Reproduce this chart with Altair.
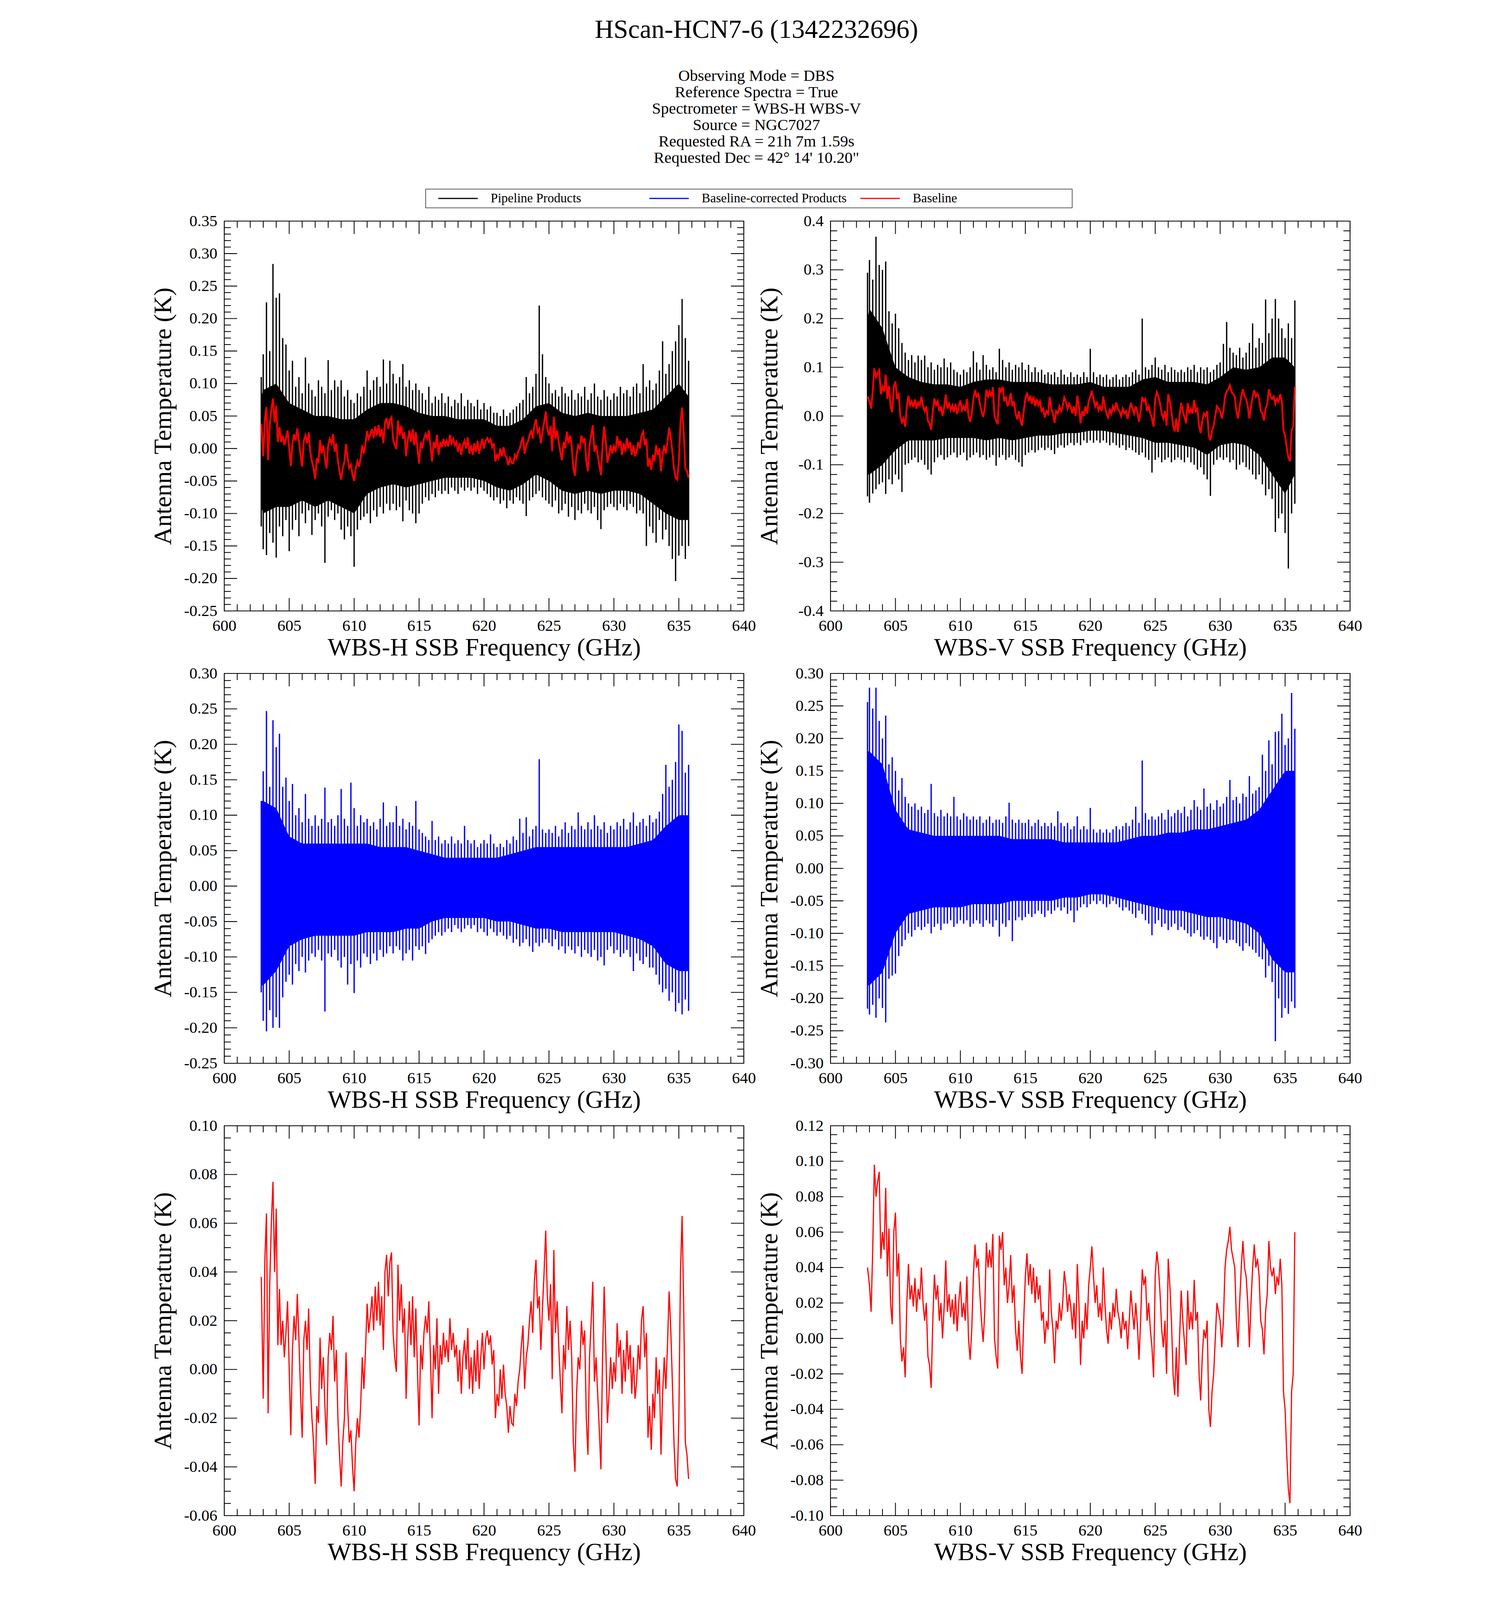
import altair as alt
import pandas as pd

SERIF = "Liberation Serif"
S = 0.835                      # whole layout scaled so the figure fits the captured page
W, H = round(1593 * S), round(1195 * S)
TW = 2.5 * S
TICK_FS, AXT_FS = round(49 * S), round(77 * S)
MAJ_L, MIN_L = round(40 * S), round(20 * S)
LPAD = round(22 * S)
YEXT = 104
YTP = 20
XTP = 4

# ---------------- data ----------------
FREQ = [602.85] + [round(603.0 + 0.25 * k, 2) for k in range(132)]
FREQ_R = [602.85] + [round(603.0 + 0.125 * k, 3) for k in range(263)]
CORE_F = [602.85] + [float(v) for v in range(603, 636)] + [635.75]

# Baseline, WBS-H (0.125 GHz sampling)
RED_H = [
    0.038,
    -0.012, 0.045, 0.064, -0.018, 0.035, 0.060, 0.077, 0.040,
    0.066, 0.010, 0.033, 0.010, 0.020, 0.005, 0.015, 0.028,
    0.000, -0.027, 0.008, 0.022, 0.012, 0.031, 0.012, -0.010,
    -0.028, 0.012, 0.020, 0.008, 0.025, -0.005, -0.020, -0.030,
    -0.047, -0.015, -0.022, 0.013, -0.008, 0.005, -0.015, -0.031,
    0.005, 0.015, 0.008, 0.022, -0.005, 0.008, -0.020, -0.035,
    -0.048, -0.030, -0.020, 0.007, -0.015, -0.030, -0.025, -0.040,
    -0.050, -0.030, -0.020, -0.028, -0.015, 0.005, -0.008, 0.008,
    0.027, 0.015, 0.022, 0.030, 0.016, 0.034, 0.020, 0.036,
    0.018, 0.030, 0.008, 0.040, 0.047, 0.030, 0.044, 0.048,
    0.015, 0.005, -0.001, 0.043, 0.020, 0.035, 0.015, 0.025,
    -0.012, 0.012, 0.028, 0.010, 0.030, 0.005, 0.025, 0.000,
    -0.023, 0.010, 0.000, 0.015, 0.022, 0.015, 0.028, 0.005,
    -0.020, 0.010, 0.000, 0.021, -0.010, 0.010, 0.002, 0.015,
    0.005, 0.012, 0.003, 0.021, 0.008, 0.015, 0.005, 0.010,
    -0.005, 0.008, -0.010, 0.005, 0.012, 0.000, 0.017, -0.008,
    0.005, -0.010, 0.008, -0.005, 0.012, -0.008, 0.005, 0.015,
    0.000, 0.012, 0.016, 0.010, 0.014, 0.002, 0.008, -0.020,
    -0.010, -0.015, 0.000, -0.012, 0.002, -0.010, -0.015, -0.026,
    -0.015, -0.022, -0.023, -0.010, -0.015, -0.005, 0.000, 0.010,
    0.018, -0.008, 0.005, 0.010, 0.020, 0.028, 0.015, 0.036,
    0.045, 0.025, 0.030, 0.008, 0.025, 0.040, 0.057, 0.030,
    0.020, 0.035, -0.004, 0.049, 0.015, 0.028, 0.010, -0.005,
    -0.018, 0.010, 0.000, 0.026, 0.008, 0.020, 0.005, -0.030,
    -0.042, -0.010, 0.005, 0.000, 0.020, 0.010, 0.016, -0.020,
    -0.035, 0.005, 0.020, 0.036, -0.005, 0.005, -0.010, -0.025,
    -0.041, 0.005, 0.034, 0.010, -0.022, -0.010, 0.005, -0.008,
    0.003, -0.005, 0.019, 0.005, 0.012, -0.010, 0.008, -0.005,
    0.016, 0.000, 0.010, -0.010, 0.005, -0.012, -0.005, 0.010,
    0.000, 0.020, 0.026, 0.005, 0.015, -0.028, -0.015, -0.033,
    -0.010, -0.020, 0.005, -0.010, 0.000, -0.035, -0.010, 0.005,
    -0.008, 0.010, 0.032, 0.017, -0.005, -0.030, -0.045, -0.048,
    -0.020, 0.040, 0.063, 0.025, -0.030, -0.035, -0.045,
]

# Baseline, WBS-V (0.125 GHz sampling)
RED_V = [
    0.040,
    0.030, 0.015, 0.050, 0.098, 0.080, 0.088, 0.094, 0.045,
    0.060, 0.050, 0.085, 0.035, 0.062, 0.020, 0.008, 0.060,
    0.071, 0.035, 0.048, 0.000, -0.013, -0.005, -0.022, 0.020,
    0.042, 0.022, 0.030, 0.018, 0.034, 0.015, 0.028, 0.022,
    0.040, 0.020, 0.010, 0.020, -0.010, -0.015, -0.028, 0.010,
    0.036, 0.022, 0.030, 0.010, 0.020, 0.000, 0.018, 0.044,
    0.015, 0.025, 0.012, 0.022, 0.008, 0.025, 0.004, 0.020,
    0.032, 0.012, 0.020, 0.010, 0.035, 0.000, -0.012, 0.005,
    0.035, 0.053, 0.040, 0.045, 0.025, 0.010, -0.002, 0.015,
    0.054, 0.040, 0.050, 0.040, 0.059, 0.000, -0.010, -0.017,
    0.058, 0.050, 0.060, 0.030, 0.040, 0.020, 0.030, 0.047,
    0.020, 0.030, 0.005, -0.007, 0.010, -0.010, -0.020, 0.010,
    0.035, 0.048, 0.030, 0.042, 0.025, 0.040, 0.020, 0.035,
    0.022, 0.030, 0.010, 0.015, -0.003, 0.010, 0.005, 0.039,
    0.015, 0.005, -0.014, 0.010, 0.005, 0.020, 0.010, 0.020,
    0.038, 0.030, 0.015, 0.025, 0.018, 0.005, 0.020, 0.000,
    0.042, 0.020, -0.015, 0.010, 0.000, 0.020, 0.005, 0.030,
    0.040, 0.052, 0.035, 0.020, 0.030, 0.012, 0.020, 0.010,
    0.040, 0.020, 0.005, -0.003, 0.015, 0.005, 0.020, 0.012,
    0.028, 0.015, 0.010, 0.000, 0.015, 0.005, 0.010, -0.006,
    0.010, 0.027, 0.015, 0.005, 0.020, 0.008, -0.012, 0.010,
    0.039, 0.030, 0.035, 0.010, 0.020, 0.005, -0.005, -0.022,
    0.035, 0.049, 0.040, 0.025, 0.005, -0.005, 0.010, -0.020,
    0.045, 0.030, 0.010, -0.020, -0.032, -0.005, -0.033, 0.000,
    0.027, 0.010, -0.002, -0.015, 0.027, 0.005, 0.015, 0.005,
    0.033, 0.010, 0.015, -0.020, -0.035, -0.010, 0.005, 0.000,
    0.010, -0.040, -0.050, -0.030, -0.020, 0.000, 0.020, 0.015,
    0.010, -0.005, 0.010, 0.040, 0.050, 0.055, 0.063, 0.050,
    0.045, 0.040, 0.010, -0.005, 0.020, 0.040, 0.055, 0.040,
    0.035, 0.020, -0.005, 0.020, 0.040, 0.053, 0.040, 0.045,
    0.035, 0.010, 0.005, -0.009, 0.015, 0.025, 0.055, 0.040,
    0.035, 0.040, 0.025, 0.035, 0.030, 0.045, 0.030, -0.030,
    -0.040, -0.065, -0.085, -0.093, -0.030, -0.020, 0.060,
]

# Pipeline products, WBS-H: spike tips (max / min per bin)
BLK_H_HI = [
    0.110,
    0.145, 0.225, 0.150, 0.284, 0.232, 0.239, 0.170, 0.160,
    0.120, 0.135, 0.095, 0.110, 0.085, 0.140, 0.100, 0.090,
    0.080, 0.105, 0.095, 0.085, 0.136, 0.090, 0.105, 0.095,
    0.105, 0.080, 0.090, 0.075, 0.070, 0.085, 0.080, 0.095,
    0.120, 0.090, 0.105, 0.110, 0.095, 0.137, 0.100, 0.135,
    0.115, 0.100, 0.110, 0.130, 0.095, 0.105, 0.090, 0.100,
    0.090, 0.085, 0.075, 0.095, 0.070, 0.080, 0.075, 0.085,
    0.070, 0.080, 0.065, 0.075, 0.070, 0.085, 0.065, 0.075,
    0.070, 0.065, 0.075, 0.060, 0.070, 0.060, 0.065, 0.055,
    0.055, 0.050, 0.060, 0.050, 0.055, 0.060, 0.065, 0.070,
    0.075, 0.110, 0.085, 0.095, 0.115, 0.220, 0.145, 0.110,
    0.100, 0.085, 0.090, 0.080, 0.095, 0.085, 0.080, 0.090,
    0.075, 0.085, 0.080, 0.095, 0.075, 0.085, 0.100, 0.080,
    0.075, 0.090, 0.080, 0.075, 0.085, 0.080, 0.095, 0.085,
    0.090, 0.080, 0.095, 0.100, 0.085, 0.130, 0.095, 0.105,
    0.090, 0.100, 0.120, 0.165, 0.115, 0.130, 0.150, 0.165,
    0.190, 0.230, 0.170, 0.135,
]
BLK_H_LO = [
    -0.120,
    -0.155, -0.164, -0.130, -0.145, -0.168, -0.120, -0.135, -0.110,
    -0.158, -0.125, -0.110, -0.135, -0.100, -0.115, -0.095, -0.133,
    -0.110, -0.100, -0.120, -0.176, -0.105, -0.095, -0.110, -0.100,
    -0.125, -0.140, -0.120, -0.135, -0.182, -0.125, -0.110, -0.105,
    -0.100, -0.115, -0.095, -0.105, -0.090, -0.100, -0.085, -0.095,
    -0.085, -0.095, -0.090, -0.112, -0.080, -0.095, -0.100, -0.115,
    -0.100, -0.085, -0.075, -0.080, -0.070, -0.075, -0.065, -0.070,
    -0.065, -0.070, -0.060, -0.065, -0.070, -0.060, -0.065, -0.060,
    -0.065, -0.060, -0.070, -0.060, -0.065, -0.070, -0.075, -0.080,
    -0.075, -0.085, -0.080, -0.092, -0.080, -0.085, -0.075, -0.080,
    -0.085, -0.104, -0.080, -0.075, -0.070, -0.065, -0.075, -0.080,
    -0.085, -0.090, -0.080, -0.100, -0.095, -0.085, -0.105, -0.090,
    -0.110, -0.095, -0.100, -0.085, -0.095, -0.100, -0.090, -0.110,
    -0.124, -0.095, -0.090, -0.085, -0.090, -0.095, -0.085, -0.090,
    -0.095, -0.085, -0.090, -0.100, -0.095, -0.100, -0.150, -0.120,
    -0.130, -0.145, -0.110, -0.140, -0.125, -0.150, -0.170, -0.204,
    -0.165, -0.150, -0.170, -0.150,
]

# Baseline-corrected products, WBS-H
BLU_H_HI = [
    0.120,
    0.162, 0.247, 0.140, 0.234, 0.196, 0.215, 0.140, 0.153,
    0.120, 0.144, 0.100, 0.110, 0.090, 0.130, 0.095, 0.085,
    0.100, 0.085, 0.095, 0.139, 0.090, 0.095, 0.085, 0.100,
    0.137, 0.095, 0.085, 0.146, 0.110, 0.085, 0.100, 0.090,
    0.095, 0.085, 0.090, 0.080, 0.095, 0.118, 0.085, 0.090,
    0.090, 0.113, 0.085, 0.095, 0.080, 0.090, 0.085, 0.120,
    0.080, 0.075, 0.070, 0.065, 0.092, 0.065, 0.070, 0.060,
    0.065, 0.060, 0.070, 0.060, 0.065, 0.060, 0.085, 0.065,
    0.060, 0.065, 0.055, 0.060, 0.065, 0.060, 0.073, 0.060,
    0.055, 0.060, 0.055, 0.065, 0.060, 0.070, 0.065, 0.095,
    0.075, 0.097, 0.070, 0.080, 0.085, 0.179, 0.080, 0.075,
    0.080, 0.075, 0.085, 0.070, 0.080, 0.090, 0.075, 0.085,
    0.080, 0.104, 0.085, 0.080, 0.090, 0.080, 0.100, 0.085,
    0.080, 0.090, 0.075, 0.085, 0.080, 0.090, 0.085, 0.095,
    0.080, 0.090, 0.104, 0.085, 0.090, 0.095, 0.085, 0.100,
    0.090, 0.095, 0.105, 0.130, 0.171, 0.140, 0.150, 0.175,
    0.228, 0.219, 0.160, 0.171,
]
BLU_H_LO = [
    -0.150,
    -0.190, -0.205, -0.175, -0.200, -0.185, -0.200, -0.157, -0.135,
    -0.125, -0.139, -0.110, -0.120, -0.100, -0.122, -0.105, -0.095,
    -0.100, -0.090, -0.105, -0.177, -0.095, -0.100, -0.090, -0.105,
    -0.115, -0.100, -0.139, -0.110, -0.151, -0.105, -0.115, -0.095,
    -0.100, -0.110, -0.095, -0.105, -0.090, -0.100, -0.095, -0.085,
    -0.095, -0.085, -0.090, -0.105, -0.095, -0.090, -0.105, -0.085,
    -0.090, -0.085, -0.096, -0.080, -0.075, -0.070, -0.065, -0.070,
    -0.065, -0.060, -0.065, -0.055, -0.060, -0.065, -0.060, -0.055,
    -0.060, -0.055, -0.065, -0.060, -0.065, -0.070, -0.060, -0.065,
    -0.070, -0.065, -0.070, -0.075, -0.070, -0.080, -0.075, -0.085,
    -0.080, -0.075, -0.085, -0.093, -0.080, -0.085, -0.080, -0.075,
    -0.080, -0.085, -0.075, -0.090, -0.085, -0.095, -0.085, -0.090,
    -0.095, -0.085, -0.100, -0.090, -0.095, -0.100, -0.090, -0.105,
    -0.100, -0.112, -0.090, -0.085, -0.095, -0.090, -0.100, -0.095,
    -0.090, -0.100, -0.120, -0.095, -0.105, -0.110, -0.100, -0.115,
    -0.115, -0.125, -0.139, -0.150, -0.145, -0.162, -0.150, -0.177,
    -0.165, -0.181, -0.160, -0.176,
]

# Pipeline products, WBS-V
BLK_V_HI = [
    0.294,
    0.320, 0.280, 0.368, 0.310, 0.300, 0.317, 0.215, 0.190,
    0.210, 0.180, 0.150, 0.130, 0.115, 0.125, 0.110, 0.124,
    0.115, 0.124, 0.100, 0.110, 0.095, 0.105, 0.100, 0.118,
    0.100, 0.110, 0.095, 0.090, 0.085, 0.095, 0.090, 0.100,
    0.133, 0.110, 0.095, 0.125, 0.105, 0.095, 0.100, 0.090,
    0.138, 0.115, 0.100, 0.110, 0.095, 0.105, 0.100, 0.110,
    0.095, 0.105, 0.090, 0.100, 0.090, 0.095, 0.085, 0.090,
    0.085, 0.090, 0.080, 0.095, 0.085, 0.080, 0.090, 0.080,
    0.085, 0.080, 0.090, 0.080, 0.138, 0.090, 0.080, 0.085,
    0.080, 0.085, 0.075, 0.080, 0.085, 0.075, 0.080, 0.085,
    0.080, 0.090, 0.095, 0.085, 0.200, 0.100, 0.095, 0.105,
    0.120, 0.100, 0.095, 0.105, 0.090, 0.100, 0.095, 0.090,
    0.095, 0.090, 0.100, 0.095, 0.105, 0.090, 0.100, 0.095,
    0.100, 0.090, 0.095, 0.105, 0.110, 0.148, 0.193, 0.140,
    0.130, 0.125, 0.140, 0.120, 0.130, 0.150, 0.190, 0.140,
    0.160, 0.150, 0.239, 0.170, 0.200, 0.240, 0.200, 0.180,
    0.160, 0.190, 0.160, 0.237,
]
BLK_V_LO = [
    -0.165,
    -0.178, -0.159, -0.150, -0.140, -0.136, -0.160, -0.130, -0.140,
    -0.120, -0.130, -0.156, -0.100, -0.097, -0.090, -0.085, -0.095,
    -0.090, -0.100, -0.110, -0.120, -0.095, -0.085, -0.080, -0.090,
    -0.085, -0.080, -0.075, -0.085, -0.080, -0.075, -0.091, -0.085,
    -0.080, -0.075, -0.085, -0.080, -0.090, -0.085, -0.080, -0.102,
    -0.085, -0.080, -0.090, -0.085, -0.080, -0.090, -0.095, -0.104,
    -0.080, -0.075, -0.070, -0.075, -0.070, -0.065, -0.070, -0.065,
    -0.070, -0.078, -0.065, -0.060, -0.065, -0.060, -0.055, -0.060,
    -0.055, -0.060, -0.050, -0.055, -0.050, -0.055, -0.050, -0.055,
    -0.050, -0.055, -0.060, -0.055, -0.060, -0.065, -0.060, -0.070,
    -0.065, -0.070, -0.075, -0.080, -0.075, -0.085, -0.090, -0.116,
    -0.090, -0.085, -0.095, -0.090, -0.085, -0.095, -0.090, -0.085,
    -0.090, -0.095, -0.085, -0.095, -0.100, -0.110, -0.105, -0.120,
    -0.130, -0.164, -0.100, -0.090, -0.085, -0.090, -0.085, -0.095,
    -0.090, -0.110, -0.100, -0.095, -0.105, -0.110, -0.120, -0.130,
    -0.120, -0.140, -0.163, -0.150, -0.170, -0.238, -0.210, -0.200,
    -0.240, -0.313, -0.200, -0.180,
]

# Baseline-corrected products, WBS-V
BLU_V_HI = [
    0.256,
    0.278, 0.246, 0.278, 0.227, 0.200, 0.235, 0.160, 0.171,
    0.150, 0.120, 0.139, 0.110, 0.100, 0.095, 0.100, 0.090,
    0.095, 0.085, 0.090, 0.130, 0.085, 0.080, 0.090, 0.080,
    0.085, 0.080, 0.110, 0.080, 0.075, 0.085, 0.080, 0.075,
    0.080, 0.075, 0.080, 0.070, 0.075, 0.080, 0.070, 0.075,
    0.075, 0.070, 0.080, 0.101, 0.075, 0.070, 0.075, 0.070,
    0.070, 0.075, 0.065, 0.070, 0.075, 0.065, 0.070, 0.065,
    0.070, 0.065, 0.088, 0.070, 0.065, 0.070, 0.060, 0.065,
    0.080, 0.060, 0.065, 0.060, 0.093, 0.060, 0.055, 0.060,
    0.055, 0.060, 0.055, 0.060, 0.065, 0.060, 0.065, 0.070,
    0.065, 0.075, 0.095, 0.070, 0.166, 0.085, 0.075, 0.080,
    0.075, 0.080, 0.085, 0.075, 0.090, 0.080, 0.085, 0.090,
    0.085, 0.095, 0.080, 0.090, 0.105, 0.095, 0.090, 0.123,
    0.095, 0.100, 0.090, 0.105, 0.095, 0.100, 0.110, 0.136,
    0.105, 0.110, 0.100, 0.115, 0.110, 0.142, 0.115, 0.120,
    0.125, 0.175, 0.150, 0.197, 0.160, 0.210, 0.211, 0.238,
    0.190, 0.200, 0.270, 0.215,
]
BLU_V_LO = [
    -0.216,
    -0.225, -0.210, -0.230, -0.200, -0.215, -0.237, -0.170, -0.165,
    -0.162, -0.135, -0.120, -0.110, -0.100, -0.105, -0.095, -0.090,
    -0.095, -0.090, -0.085, -0.100, -0.090, -0.085, -0.095, -0.085,
    -0.085, -0.080, -0.090, -0.085, -0.080, -0.085, -0.080, -0.090,
    -0.085, -0.080, -0.085, -0.090, -0.080, -0.085, -0.090, -0.080,
    -0.105, -0.085, -0.090, -0.080, -0.112, -0.080, -0.075, -0.080,
    -0.075, -0.070, -0.075, -0.070, -0.065, -0.070, -0.075, -0.065,
    -0.070, -0.065, -0.060, -0.065, -0.060, -0.070, -0.065, -0.083,
    -0.065, -0.060, -0.055, -0.060, -0.055, -0.050, -0.055, -0.050,
    -0.055, -0.060, -0.055, -0.050, -0.055, -0.060, -0.065, -0.060,
    -0.065, -0.070, -0.076, -0.065, -0.070, -0.080, -0.085, -0.103,
    -0.085, -0.080, -0.090, -0.085, -0.095, -0.090, -0.085, -0.095,
    -0.090, -0.095, -0.100, -0.105, -0.100, -0.095, -0.105, -0.110,
    -0.105, -0.110, -0.115, -0.123, -0.105, -0.110, -0.115, -0.110,
    -0.110, -0.115, -0.120, -0.127, -0.115, -0.120, -0.125, -0.130,
    -0.136, -0.140, -0.168, -0.150, -0.175, -0.266, -0.200, -0.230,
    -0.215, -0.224, -0.205, -0.215,
]

# dense core of each noise band (1 GHz grid)
BLK_H_CORE_HI = [0.08,
    0.09, 0.10, 0.07, 0.06, 0.05, 0.05, 0.045, 0.045,
    0.06, 0.07, 0.07, 0.065, 0.055, 0.05, 0.05, 0.045,
    0.045, 0.045, 0.035, 0.035, 0.045, 0.065, 0.07, 0.055,
    0.05, 0.055, 0.05, 0.05, 0.05, 0.055, 0.06, 0.08,
    0.10, 0.08]
BLK_H_CORE_LO = [-0.09,
    -0.10, -0.09, -0.09, -0.08, -0.09, -0.08, -0.09, -0.10,
    -0.07, -0.06, -0.055, -0.06, -0.055, -0.05, -0.045, -0.045,
    -0.045, -0.05, -0.06, -0.065, -0.055, -0.04, -0.05, -0.065,
    -0.07, -0.065, -0.07, -0.065, -0.065, -0.07, -0.085, -0.10,
    -0.11, -0.11]
BLU_H_CORE_HI = [0.12,
    0.12, 0.11, 0.07, 0.06, 0.06, 0.06, 0.06, 0.06,
    0.06, 0.055, 0.055, 0.055, 0.05, 0.045, 0.04, 0.04,
    0.04, 0.04, 0.04, 0.045, 0.05, 0.055, 0.055, 0.055,
    0.055, 0.055, 0.055, 0.055, 0.055, 0.06, 0.065, 0.085,
    0.10, 0.10]
BLU_H_CORE_LO = [-0.14,
    -0.14, -0.12, -0.085, -0.075, -0.07, -0.07, -0.07, -0.07,
    -0.065, -0.065, -0.065, -0.06, -0.06, -0.05, -0.045, -0.045,
    -0.045, -0.045, -0.05, -0.05, -0.055, -0.06, -0.06, -0.065,
    -0.065, -0.065, -0.065, -0.065, -0.07, -0.075, -0.085, -0.11,
    -0.12, -0.12]
BLK_V_CORE_HI = [0.20,
    0.22, 0.18, 0.10, 0.08, 0.07, 0.065, 0.065, 0.06,
    0.07, 0.075, 0.075, 0.07, 0.07, 0.07, 0.065, 0.065,
    0.065, 0.07, 0.06, 0.06, 0.06, 0.075, 0.08, 0.07,
    0.07, 0.07, 0.065, 0.08, 0.10, 0.095, 0.10, 0.12,
    0.12, 0.10]
BLK_V_CORE_LO = [-0.12,
    -0.12, -0.10, -0.07, -0.05, -0.05, -0.05, -0.045, -0.045,
    -0.045, -0.05, -0.045, -0.05, -0.045, -0.04, -0.04, -0.035,
    -0.035, -0.03, -0.03, -0.035, -0.04, -0.045, -0.055, -0.055,
    -0.06, -0.065, -0.08, -0.06, -0.055, -0.06, -0.08, -0.12,
    -0.16, -0.12]
BLU_V_CORE_HI = [0.18,
    0.18, 0.16, 0.09, 0.06, 0.055, 0.05, 0.05, 0.05,
    0.05, 0.05, 0.05, 0.045, 0.045, 0.045, 0.045, 0.04,
    0.04, 0.04, 0.04, 0.04, 0.045, 0.05, 0.05, 0.055,
    0.055, 0.06, 0.06, 0.065, 0.07, 0.075, 0.09, 0.12,
    0.15, 0.15]
BLU_V_CORE_LO = [-0.18,
    -0.18, -0.16, -0.10, -0.07, -0.065, -0.06, -0.06, -0.06,
    -0.055, -0.055, -0.055, -0.05, -0.05, -0.05, -0.05, -0.045,
    -0.045, -0.04, -0.04, -0.045, -0.05, -0.055, -0.06, -0.065,
    -0.065, -0.07, -0.075, -0.075, -0.08, -0.085, -0.10, -0.14,
    -0.16, -0.16]

# axis tick labels
XMAJ = [600, 605, 610, 615, 620, 625, 630, 635, 640]
Y_TL = [-0.25, -0.20, -0.15, -0.10, -0.05, 0.0, 0.05, 0.10, 0.15, 0.20, 0.25, 0.30, 0.35]
Y_TR = [-0.4, -0.3, -0.2, -0.1, 0.0, 0.1, 0.2, 0.3, 0.4]
Y_ML = [-0.25, -0.20, -0.15, -0.10, -0.05, 0.0, 0.05, 0.10, 0.15, 0.20, 0.25, 0.30]
Y_MR = [-0.30, -0.25, -0.20, -0.15, -0.10, -0.05, 0.0, 0.05, 0.10, 0.15, 0.20, 0.25, 0.30]
Y_BL = [-0.06, -0.04, -0.02, 0.0, 0.02, 0.04, 0.06, 0.08, 0.10]
Y_BR = [-0.10, -0.08, -0.06, -0.04, -0.02, 0.0, 0.02, 0.04, 0.06, 0.08, 0.10, 0.12]

LEG_LABELS = ["Pipeline Products", "Baseline-corrected Products", "Baseline"]
LEG_COLORS = ["#000000", "#0000ff", "#ff0000"]
LEG_SLOT = [0, 1, 2]

TITLE = "HScan-HCN7-6 (1342232696)"
SUBTITLE = [
    "Observing Mode = DBS",
    "Reference Spectra = True",
    "Spectrometer = WBS-H WBS-V",
    "Source = NGC7027",
    "Requested RA = 21h 7m 1.59s",
    "Requested Dec = 42\u00b0 14' 10.20\"",
]


# ---------------- helpers ----------------
def minors(major, n_sub):
    out = []
    for a, b in zip(major[:-1], major[1:]):
        step = (b - a) / n_sub
        out += [round(a + k * step, 4) for k in range(1, n_sub)]
    return out


XMIN = minors(XMAJ, 5)


def red_frame(red):
    n = min(len(FREQ_R), len(red))
    return pd.DataFrame({"f": FREQ_R[:n], "v": red[:n]})


def axes(ymaj, fmt, xtitle):
    common = dict(ticks=False, tickSize=0, domain=False, grid=False,
                  labelFont=SERIF, labelFontSize=TICK_FS, labelColor="black", labelPadding=LPAD,
                  labelFlush=False, labelOverlap=False,
                  titleFont=SERIF, titleFontSize=AXT_FS, titleFontWeight="normal",
                  titleColor="black")
    xaxis = alt.Axis(values=XMAJ, format="d", title=xtitle, titlePadding=XTP, **common)
    yaxis = alt.Axis(values=ymaj, title="Antenna Temperature (K)",
                     labelExpr="replace(format(datum.value, '%s'), '\u2212', '-')" % fmt,
                     titlePadding=YTP, minExtent=YEXT, maxExtent=YEXT, **common)
    return xaxis, yaxis


def tick_layers(xs, ys, xaxis, yaxis, ymaj, ymin):
    out = []
    for vals, L in ((XMAJ, MAJ_L), (XMIN, MIN_L)):
        d = pd.DataFrame({"v": vals})
        xe = alt.X("v:Q", scale=xs, axis=xaxis)
        out.append(alt.Chart(d).mark_rule(color="black", strokeWidth=TW)
                   .encode(x=xe, y=alt.value(H), y2=alt.value(H - L)))
        out.append(alt.Chart(d).mark_rule(color="black", strokeWidth=TW)
                   .encode(x=xe, y=alt.value(0), y2=alt.value(L)))
    for vals, L in ((ymaj, MAJ_L), (ymin, MIN_L)):
        d = pd.DataFrame({"v": vals})
        ye = alt.Y("v:Q", scale=ys, axis=yaxis)
        out.append(alt.Chart(d).mark_rule(color="black", strokeWidth=TW)
                   .encode(y=ye, x=alt.value(0), x2=alt.value(L)))
        out.append(alt.Chart(d).mark_rule(color="black", strokeWidth=TW)
                   .encode(y=ye, x=alt.value(W), x2=alt.value(W - L)))
    return out


def noise_panel(hi, lo, core_hi, core_lo, color, red, ymaj, nsub, fmt, xtitle):
    xs = alt.Scale(domain=[600, 640], nice=False, zero=False)
    ys = alt.Scale(domain=[ymaj[0], ymaj[-1]], nice=False, zero=False)
    xaxis, yaxis = axes(ymaj, fmt, xtitle)
    core_df = pd.DataFrame({"f": CORE_F, "hi": core_hi, "lo": core_lo})
    spk_df = pd.DataFrame({"f": FREQ, "hi": hi, "lo": lo})
    layers = [
        alt.Chart(core_df).mark_area(color=color, opacity=1, clip=True).encode(
            x=alt.X("f:Q", scale=xs, axis=xaxis),
            y=alt.Y("lo:Q", scale=ys, axis=yaxis), y2="hi:Q"),
        alt.Chart(spk_df).mark_rule(color=color, strokeWidth=4.0 * S, clip=True).encode(
            x=alt.X("f:Q", scale=xs, axis=xaxis),
            y=alt.Y("lo:Q", scale=ys, axis=yaxis), y2="hi:Q"),
    ]
    if red is not None:
        layers.append(alt.Chart(red_frame(red)).mark_line(color="#ff0000", strokeWidth=5.5 * S, clip=True).encode(
            x=alt.X("f:Q", scale=xs, axis=xaxis), y=alt.Y("v:Q", scale=ys, axis=yaxis)))
    layers += tick_layers(xs, ys, xaxis, yaxis, ymaj, minors(ymaj, nsub))
    return alt.layer(*layers).properties(width=W, height=H)


def red_panel(red, ymaj, nsub, fmt, xtitle):
    xs = alt.Scale(domain=[600, 640], nice=False, zero=False)
    ys = alt.Scale(domain=[ymaj[0], ymaj[-1]], nice=False, zero=False)
    xaxis, yaxis = axes(ymaj, fmt, xtitle)
    layers = [alt.Chart(red_frame(red)).mark_line(color="#ff0000", strokeWidth=3.6 * S, clip=True).encode(
        x=alt.X("f:Q", scale=xs, axis=xaxis), y=alt.Y("v:Q", scale=ys, axis=yaxis))]
    layers += tick_layers(xs, ys, xaxis, yaxis, ymaj, minors(ymaj, nsub))
    return alt.layer(*layers).properties(width=W, height=H)


XT_H = "WBS-H SSB Frequency (GHz)"
XT_V = "WBS-V SSB Frequency (GHz)"

p_tl = noise_panel(BLK_H_HI, BLK_H_LO, BLK_H_CORE_HI, BLK_H_CORE_LO, "#000000", RED_H, Y_TL, 5, ".2f", XT_H)
p_tr = noise_panel(BLK_V_HI, BLK_V_LO, BLK_V_CORE_HI, BLK_V_CORE_LO, "#000000", RED_V, Y_TR, 5, ".1f", XT_V)
p_ml = noise_panel(BLU_H_HI, BLU_H_LO, BLU_H_CORE_HI, BLU_H_CORE_LO, "#0000ff", None, Y_ML, 5, ".2f", XT_H)
p_mr = noise_panel(BLU_V_HI, BLU_V_LO, BLU_V_CORE_HI, BLU_V_CORE_LO, "#0000ff", None, Y_MR, 5, ".2f", XT_V)
p_bl = red_panel(RED_H, Y_BL, 4, ".2f", XT_H)
p_br = red_panel(RED_V, Y_BR, 4, ".2f", XT_V)

# ---------------- legend ----------------
LW, LH = round(1982 * S), round(58 * S)
leg_df = pd.DataFrame({"label": LEG_LABELS, "slot": LEG_SLOT})
lx = alt.X("slot:Q", axis=None, scale=alt.Scale(domain=[-0.0603, 3.0031], nice=False, zero=False))
lcol = alt.Color("label:N", scale=alt.Scale(domain=LEG_LABELS, range=LEG_COLORS), legend=None)
leg_line = alt.Chart(leg_df).mark_rule(strokeWidth=3.5 * S, x2Offset=round(121 * S)).encode(
    x=lx, x2="slot:Q", y=alt.value(LH / 2), color=lcol)
leg_text = alt.Chart(leg_df).mark_text(
    align="left", baseline="middle", font=SERIF, fontSize=round(39 * S), color="black",
    dx=round(160 * S)
).encode(x=lx, y=alt.value(LH / 2), text="label:N")
legend = alt.layer(leg_line, leg_text).properties(
    width=LW, height=LH, view=alt.ViewBackground(stroke="black", strokeWidth=1.5 * S))
# empty spacer to the right, so that the centred legend row puts the box where the reference has it
spacer = alt.Chart(leg_df).mark_point(opacity=0).encode(
    x=alt.value(0), y=alt.value(0)
).properties(width=222, height=LH, view=alt.ViewBackground(stroke="transparent"))
legend_row = alt.hconcat(legend, spacer, spacing=0)

HSP = 0
VSP = 9
rows = alt.vconcat(
    alt.hconcat(p_tl, p_tr, spacing=HSP),
    alt.hconcat(p_ml, p_mr, spacing=HSP),
    alt.hconcat(p_bl, p_br, spacing=HSP),
    spacing=VSP,
)

title = alt.TitleParams(
    text=TITLE, subtitle=SUBTITLE, anchor="middle",
    font=SERIF, fontSize=round(80 * S), fontWeight="normal", color="black",
    subtitleFont=SERIF, subtitleFontSize=round(49 * S), subtitleColor="black",
    subtitleLineHeight=round(50 * S),
    subtitlePadding=round(77 * S), offset=round(65 * S),
)

chart = alt.vconcat(legend_row, rows, spacing=9, center=True).properties(
    title=title, padding={"left": 377, "top": 35, "right": 20, "bottom": 20},
    background="white",
).configure_view(stroke="black", strokeWidth=TW)

chart.save("out.html", embed_options={"renderer": "svg", "actions": False})
